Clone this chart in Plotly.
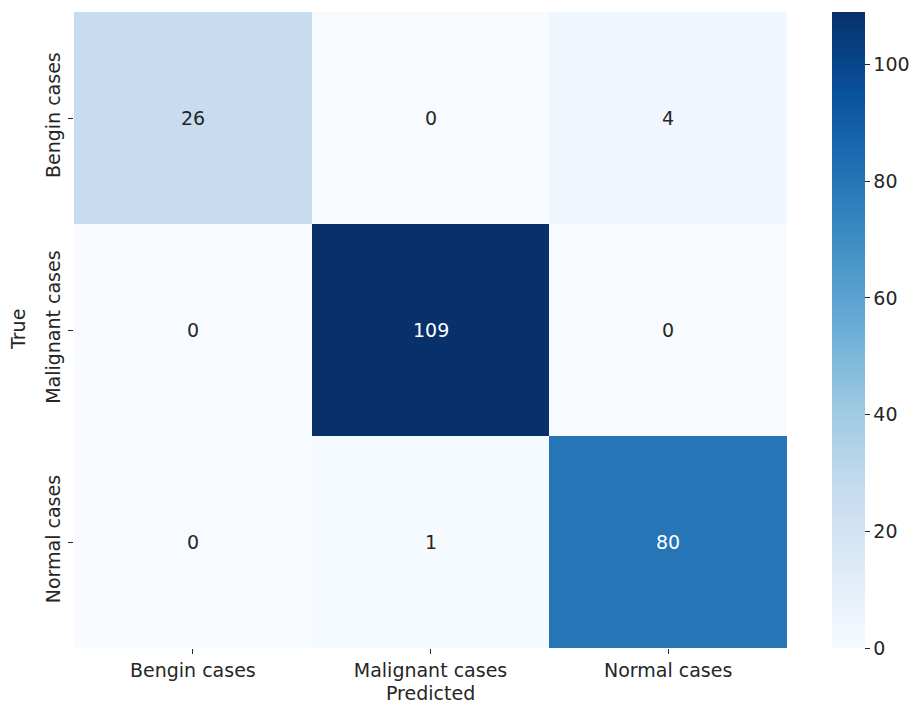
import plotly.graph_objects as go
from plotly.colors import sample_colorscale, unlabel_rgb

# Confusion matrix: rows = true class, columns = predicted class
classes = ["Bengin cases", "Malignant cases", "Normal cases"]
counts = [
    [26, 0, 4],
    [0, 109, 0],
    [0, 1, 80],
]
colorbar_ticks = [0, 20, 40, 60, 80, 100]

zmin, zmax = 0, max(max(r) for r in counts)
FONT = "DejaVu Sans"
SIZE = 19
DARK = "#262626"


def text_color(v):
    # light text on dark cells, dark text on light cells (by relative luminance)
    frac = (v - zmin) / (zmax - zmin)
    r, g, b = unlabel_rgb(sample_colorscale("Blues", [frac])[0])

    def lin(c):
        c = c / 255
        return c / 12.92 if c <= 0.03928 else ((c + 0.055) / 1.055) ** 2.4

    lum = 0.2126 * lin(r) + 0.7152 * lin(g) + 0.0722 * lin(b)
    return DARK if lum > 0.408 else "white"


fig = go.Figure(
    go.Heatmap(
        z=counts,
        x=classes,
        y=classes,
        colorscale="Blues",
        zmin=zmin,
        zmax=zmax,
        colorbar=dict(
            x=1.063,
            xanchor="left",
            xpad=0,
            y=0.5,
            yanchor="middle",
            ypad=0,
            len=1.0,
            lenmode="fraction",
            thickness=33,
            outlinewidth=0,
            tickvals=colorbar_ticks,
            ticks="outside",
            ticklen=5,
            tickcolor=DARK,
            tickfont=dict(family=FONT, size=SIZE, color=DARK),
        ),
    )
)

annotations = []
for i, row in enumerate(counts):
    for j, v in enumerate(row):
        annotations.append(
            dict(
                x=classes[j],
                y=classes[i],
                text=str(v),
                showarrow=False,
                font=dict(family=FONT, size=SIZE, color=text_color(v)),
            )
        )

# axis titles placed as paper annotations for tight positioning
annotations.append(
    dict(
        text="Predicted",
        xref="paper", yref="paper", x=0.5, y=0,
        xanchor="center", yanchor="middle", yshift=-45,
        borderpad=0,
        showarrow=False,
        font=dict(family=FONT, size=SIZE, color=DARK),
    )
)
annotations.append(
    dict(
        text="True",
        xref="paper", yref="paper", x=0, y=0.5,
        xanchor="center", yanchor="middle", xshift=-56,
        textangle=-90,
        showarrow=False,
        font=dict(family=FONT, size=SIZE, color=DARK),
    )
)

fig.update_layout(
    width=920,
    height=706,
    margin=dict(l=74, r=133, t=12, b=58, autoexpand=False),
    paper_bgcolor="white",
    plot_bgcolor="white",
    font=dict(family=FONT, size=SIZE, color=DARK),
    annotations=annotations,
    xaxis=dict(
        ticks="outside",
        ticklen=5,
        tickcolor=DARK,
        tickfont=dict(family=FONT, size=SIZE, color=DARK),
        showgrid=False,
        zeroline=False,
        showline=False,
    ),
    yaxis=dict(
        autorange="reversed",
        ticks="outside",
        ticklen=5,
        tickcolor=DARK,
        tickangle=-90,
        tickfont=dict(family=FONT, size=SIZE, color=DARK),
        showgrid=False,
        zeroline=False,
        showline=False,
    ),
)

fig.write_html("out.html")
